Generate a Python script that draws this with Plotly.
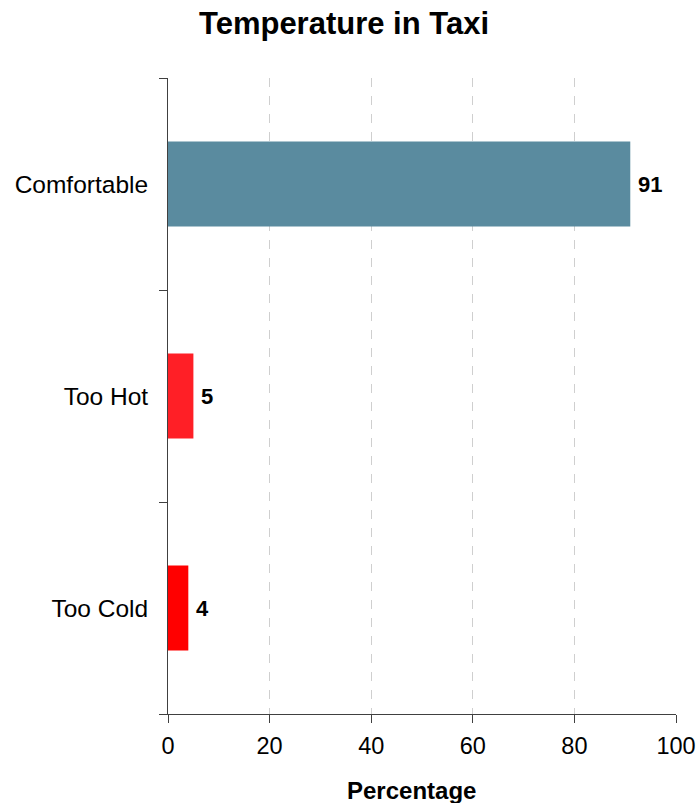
import plotly.graph_objects as go

# Survey responses: perceived temperature in the taxi
categories = ["Comfortable", "Too Hot", "Too Cold"]
percentages = [91, 5, 4]
bar_colors = ["#5a8b9f", "#ff1f26", "#ff0000"]
x_ticks = [0, 20, 40, 60, 80, 100]

W, H = 700, 803
L, R, T, B = 168, 24, 78, 89
FONT = "Liberation Sans, Arial, sans-serif"

fig = go.Figure()
fig.add_bar(
    y=categories,
    x=percentages,
    orientation="h",
    width=0.4,
    marker=dict(color=bar_colors, line=dict(width=0)),
    hoverinfo="skip",
)

# value labels placed just past the end of each bar
value_labels = [
    dict(
        x=v,
        y=c,
        xref="x",
        yref="y",
        text=f"<b>{v}</b>",
        xanchor="left",
        yanchor="middle",
        xshift=6,
        showarrow=False,
        font=dict(family=FONT, size=22, color="#000000"),
    )
    for c, v in zip(categories, percentages)
]

fig.update_layout(
    width=W,
    height=H,
    margin=dict(l=L, r=R, t=T, b=B, pad=0, autoexpand=False),
    paper_bgcolor="white",
    plot_bgcolor="white",
    showlegend=False,
    font=dict(family=FONT, color="#000000"),
    title=dict(
        text="Temperature in Taxi",
        font=dict(family=FONT, size=31, color="#000000", weight="bold"),
        x=344 / W,
        xanchor="center",
        y=1 - 23 / H,
        yanchor="middle",
    ),
    xaxis=dict(
        range=[0, 100],
        tickvals=x_ticks,
        ticktext=[str(v) for v in x_ticks],
        tickfont=dict(family=FONT, size=23.5, color="#000000"),
        ticks="outside",
        ticklen=8,
        tickcolor="#404040",
        ticklabelstandoff=3,
        showline=True,
        linecolor="#404040",
        linewidth=1,
        showgrid=True,
        gridcolor="#cfcfcf",
        griddash="dash",
        gridwidth=1,
        zeroline=False,
        fixedrange=True,
        automargin=False,
    ),
    yaxis=dict(
        type="category",
        categoryorder="array",
        categoryarray=categories[::-1],
        tickfont=dict(family=FONT, size=24.5, color="#000000"),
        ticks="outside",
        tickson="boundaries",
        ticklen=8,
        tickcolor="#404040",
        ticklabelstandoff=14,
        showline=True,
        linecolor="#404040",
        linewidth=1,
        showgrid=False,
        zeroline=False,
        fixedrange=True,
        automargin=False,
    ),
    annotations=value_labels
    + [
        dict(
            text="<b>Percentage</b>",
            xref="paper",
            yref="paper",
            x=(411.7 - L) / (W - L - R),
            y=-(790 - (H - B)) / (H - T - B),
            xanchor="center",
            yanchor="middle",
            showarrow=False,
            font=dict(family=FONT, size=24, color="#000000"),
        )
    ],
)

fig.write_html("out.html")
